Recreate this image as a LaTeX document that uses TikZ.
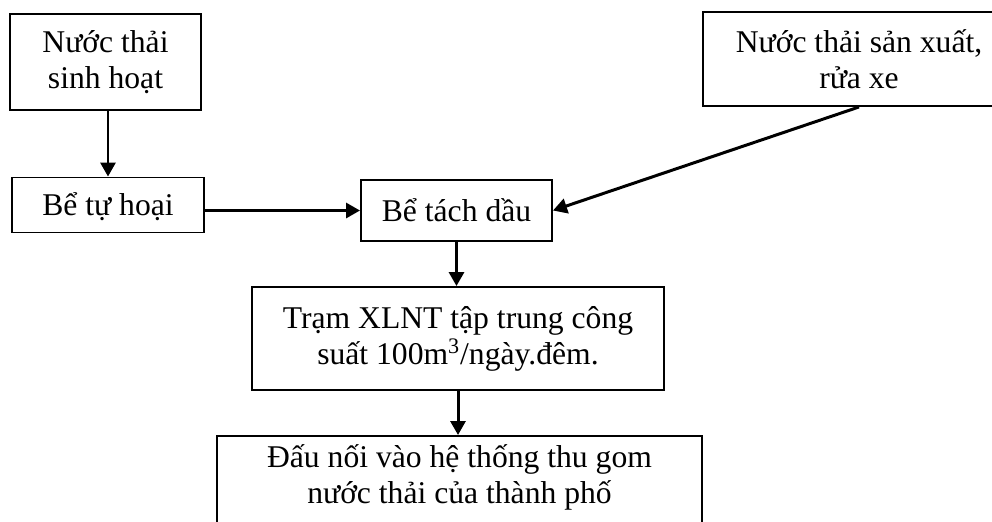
\documentclass[tikz,border=0pt]{standalone}
\usepackage{fontspec}
\setmainfont{Liberation Serif}
\usepackage{tikz}
\usetikzlibrary{arrows.meta,positioning}

\begin{document}
\begin{tikzpicture}[x=0.2mm, y=-0.2mm, font=\fontsize{18}{20.5}\selectfont,
        box/.style={draw, line width=1.1pt, align=center, inner sep=0pt},
        flow/.style={-{Triangle[length=2.8mm,width=3mm]}, line width=1.7pt}]
        \useasboundingbox (0,0) rectangle (992,521);
        \clip (0,0) rectangle (992,521);

        \node[box, minimum width=3.82cm, minimum height=1.92cm] (sinhhoat) at (105.5,62) {Nước thải\\sinh hoạt};
        \node[box, minimum width=3.84cm, minimum height=1.1cm, text height=4mm, text depth=0pt] (tuhoai) at (108,205) {Bể tự hoại};
        \node[box, minimum width=6.24cm, minimum height=1.88cm] (sanxuat) at (859,59) {Nước thải sản xuất,\\rửa xe};
        \node[box, minimum width=3.82cm, minimum height=1.22cm] (tachdau) at (456.5,210.5) {Bể tách dầu};
        \node[box, minimum width=8.24cm, minimum height=2.06cm] (tram) at (458,338.5)
            {Trạm XLNT tập trung công\\suất 100m\textsuperscript{3}/ngày.đêm.};
        \node[box, minimum width=9.7cm, anchor=north, inner ysep=1.8mm, text depth=3cm] (daunoi) at (459.5,435)
            {Đấu nối vào hệ thống thu gom\\nước thải của thành phố};

        \draw[flow] (sinhhoat.south -| tuhoai.north) -- (tuhoai.north);
        \draw[flow] (tuhoai.east |- tachdau.west) -- (tachdau.west);
        \draw[flow] (sanxuat.south) -- (tachdau.east);
        \draw[flow] (tachdau.south) -- (tachdau.south |- tram.north);
        \draw[flow] (tram.south) -- (tram.south |- daunoi.north);
    \end{tikzpicture}
\end{document}
